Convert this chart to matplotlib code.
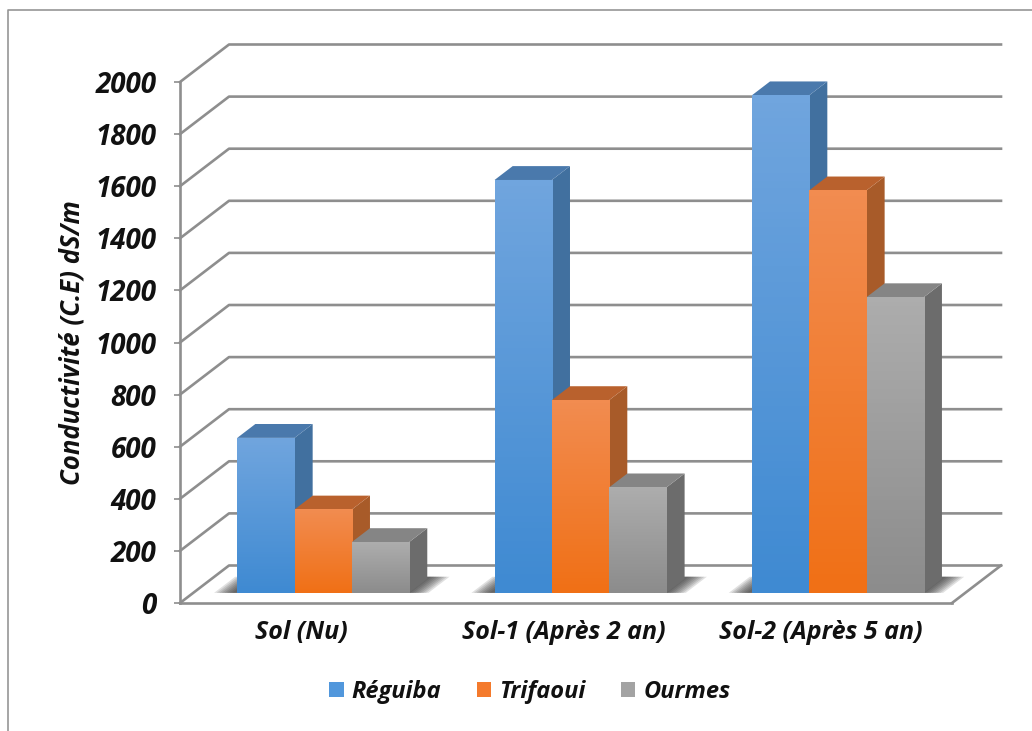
import numpy as np
import matplotlib
matplotlib.use("Agg")
import matplotlib.pyplot as plt
from matplotlib.colors import LinearSegmentedColormap
from matplotlib.lines import Line2D
from matplotlib.patches import Patch, Polygon

categories = ["Sol (Nu)", "Sol-1 (Après 2 an)", "Sol-2 (Après 5 an)"]
series_names = ["Réguiba", "Trifaoui", "Ourmes"]
reguiba = [595, 1585, 1910]
trifaoui = [320, 740, 1545]
ourmes = [195, 405, 1135]
yticks = list(range(0, 2001, 200))

face_top = ["#70a5de", "#f28c50", "#adadad"]
face_bottom = ["#3f8ad2", "#f07016", "#8c8c8c"]
side_cols = ["#41709f", "#a85b29", "#6c6c6c"]
top_cols = ["#4a79ac", "#b9612d", "#858585"]
legend_cols = ["#5197dc", "#f47a2c", "#a3a3a3"]

W, H = 1032, 731
DX = 49 / (772 / 3)   # depth of the box, x units
DY = 37.5 / 52.1 * 200   # depth of the box, y units
bar_w = 0.2227
d_front = 0.27
d_back = 0.64
shift = 0.005

plt.rcParams['font.family'] = ['Open Sans', 'DejaVu Sans']
plt.rcParams['font.style'] = 'italic'
plt.rcParams['font.weight'] = 'bold'
plt.rcParams['axes.labelweight'] = 'bold'

fig = plt.figure(figsize=(W / 100, H / 100), dpi=100)
ax = fig.add_axes([180 / W, (H - 603) / H, 772 / W, 521 / H])
grid_col = "#8e8e8e"


def pt(x, v, d):
    return (x + d * DX, v + d * DY)


# frame around the picture
fig.add_artist(Line2D([8 / W, 8 / W, 1], [0, (H - 10) / H, (H - 10) / H],
                      color="#969696", lw=1.2))

# walls and floor
for v in yticks:
    xs = [0, DX, 3 + DX]
    ys = [v, v + DY, v + DY]
    ax.plot(xs, ys, color=grid_col, lw=1.9, clip_on=False, zorder=1)
ax.plot([3, 3 + DX], [0, DY], color=grid_col, lw=1.9, clip_on=False, zorder=1)

zo = 2
values = [reguiba, trifaoui, ourmes]
for i in range(len(categories)):
    left = i + 0.5 + shift - 1.5 * bar_w
    right = i + 0.5 + shift + 1.5 * bar_w
    # soft shadow on the floor
    for k in range(8):
        grow = 0.01 * (7 - k)
        shadow = [pt(left - 0.02 - grow, 0, d_front),
                  pt(right + 0.005 + grow, 0, d_front),
                  pt(right + 0.005 + grow, 0, 0.7),
                  pt(left - 0.02 - grow, 0, 0.7)]
        ax.add_patch(Polygon(shadow, closed=True, fc="#2a2a2a", ec="none", alpha=0.14,
                             clip_on=False, zorder=zo))
    zo += 1
    for j, vals in enumerate(values):
        x0 = left + j * bar_w
        x1 = x0 + bar_w
        v = vals[i]
        side = [pt(x1, 0, d_front), pt(x1, 0, d_back), pt(x1, v, d_back), pt(x1, v, d_front)]
        top = [pt(x0, v, d_front), pt(x1, v, d_front), pt(x1, v, d_back), pt(x0, v, d_back)]
        front = [pt(x0, 0, d_front), pt(x1, 0, d_front), pt(x1, v, d_front), pt(x0, v, d_front)]
        ax.add_patch(Polygon(side, closed=True, fc=side_cols[j], ec="none", clip_on=False, zorder=zo))
        ax.add_patch(Polygon(top, closed=True, fc=top_cols[j], ec="none", clip_on=False, zorder=zo))
        zo += 1
        cmap = LinearSegmentedColormap.from_list("f", [face_bottom[j], face_top[j]])
        ext = [front[0][0], front[1][0], front[0][1], front[2][1]]
        im = ax.imshow(np.linspace(1, 0, 64).reshape(-1, 1), cmap=cmap, aspect="auto", extent=ext,
                       zorder=zo, vmin=0, vmax=1)
        im.set_clip_on(False)
        zo += 1

ax.set_xlim(0, 3)
ax.set_ylim(0, 2000)
ax.patch.set_visible(False)

for s in ["top", "right"]:
    ax.spines[s].set_visible(False)
for s in ["left", "bottom"]:
    ax.spines[s].set_color(grid_col)
    ax.spines[s].set_linewidth(1.9)

ax.set_yticks(yticks)
ax.set_yticklabels([str(v) for v in yticks], fontsize=20, color="#111111")
ax.tick_params(axis="y", length=4, width=1.2, color=grid_col, pad=13)
ax.set_xticks([0.47, 1.49, 2.49])
ax.set_xticklabels(categories, fontsize=18, color="#111111")
ax.tick_params(axis="x", length=0, pad=12)
ax.set_ylabel("Conductivité (C.E) dS/m", fontsize=18.5, color="#111111", labelpad=7)

handles = [Patch(fc=c, ec="none", label=n) for c, n in zip(legend_cols, series_names)]
ax.legend(handles=handles, ncol=3, frameon=False, fontsize=17, labelcolor="#111111",
          loc="center", bbox_to_anchor=(530 / W, (H - 692) / H), bbox_transform=fig.transFigure,
          handlelength=0.6, handleheight=0.6, handletextpad=0.35, columnspacing=1.5)

fig.savefig("out.png", dpi=100)
